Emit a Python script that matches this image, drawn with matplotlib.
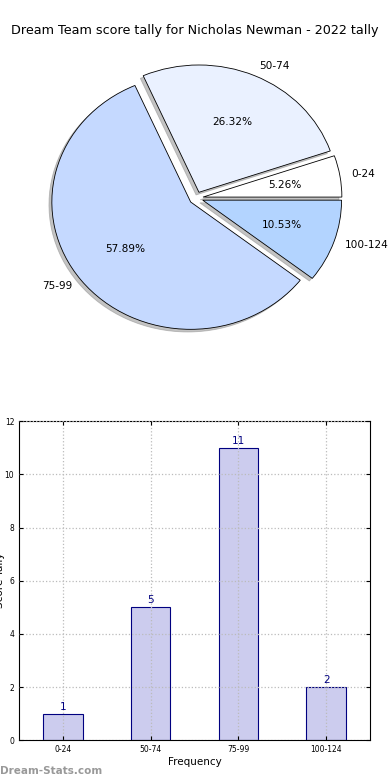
import matplotlib
matplotlib.use("Agg")
import matplotlib.pyplot as plt

# data
categories = ["0-24", "50-74", "75-99", "100-124"]
counts = [1, 5, 11, 2]
pie_colors = ["#ffffff", "#eaf1ff", "#c5d9ff", "#b3d4ff"]

fig = plt.figure(figsize=(3.9, 7.8), dpi=100)

# pie chart
ax1 = fig.add_axes([0.058, 0.542, 0.89, 0.408])
ax1.pie(counts, labels=categories, colors=pie_colors, autopct="%.2f%%",
        explode=[0.05] * len(counts),
        shadow={"ox": -0.015, "oy": -0.015, "color": "#888888"},
        startangle=0, labeldistance=1.08,
        wedgeprops={"edgecolor": "black", "linewidth": 0.6},
        textprops={"fontsize": 7.6})
ax1.set_aspect("auto")
fig.text(0.5, 0.961, "Dream Team score tally for Nicholas Newman - 2022 tally",
         ha="center", va="center", fontsize=9.2)

# bar chart
ax2 = fig.add_axes([0.049, 0.051, 0.9, 0.409])
xs = list(range(len(categories)))
bars = ax2.bar(xs, counts, width=0.45, color="#ccccee", edgecolor="#000080",
               linewidth=0.8, zorder=1)
for x, c in zip(xs, counts):
    ax2.text(x, c + 0.08, str(c), ha="center", va="bottom", fontsize=7.5,
             color="#000080")
ax2.set_xlim(-0.5, 3.5)
ax2.set_ylim(0, 12)
ax2.set_xticks(xs)
ax2.set_xticklabels(categories)
ax2.set_yticks(range(0, 13, 2))
ax2.tick_params(direction="in", labelsize=5.5, length=3, top=True, right=True)
ax2.grid(True, linestyle=":", color="#bbbbbb", linewidth=0.9, zorder=3)
ax2.set_axisbelow(False)
ax2.set_xlabel("Frequency", fontsize=7.5, labelpad=2)
ax2.set_ylabel("Score Tally", fontsize=7.5, labelpad=0)

fig.text(0.0, 0.005, "Dream-Stats.com", fontsize=7.5, color="#999999",
         fontweight="bold", ha="left", va="bottom")

fig.savefig("out.png", dpi=100)
